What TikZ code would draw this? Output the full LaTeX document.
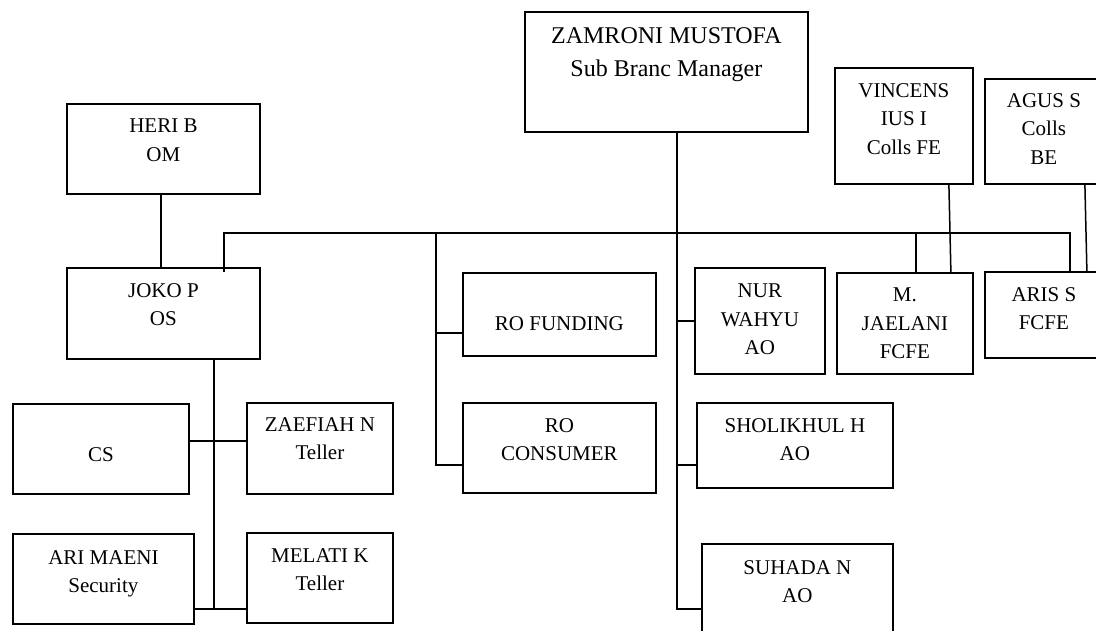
\documentclass[tikz,border=0pt]{standalone}
\usepackage{fontspec}
\setmainfont{Liberation Serif}
\begin{document}
\begin{tikzpicture}[x=1pt,y=-1pt,
  box/.style={draw, line width=1.8pt, inner sep=0pt, anchor=north west},
  txt/.style={font=\fontsize{21}{28.5}\selectfont, align=center, inner sep=0pt, anchor=north},
  bigtxt/.style={txt, font=\fontsize{24}{33}\selectfont},
  conn/.style={line width=1.5pt}]
\useasboundingbox (0,0) rectangle (1096,630);
\fill[white] (0,0) rectangle (1096,630);
\clip (0,0) rectangle (1096,630);
% boxes
\node[box, minimum width=283pt, minimum height=120pt] (zam) at (524,11) {};
\node[box, minimum width=193pt, minimum height=90pt] (heri) at (66,103) {};
\node[box, minimum width=193pt, minimum height=91pt] (joko) at (66,267) {};
\node[box, minimum width=176pt, minimum height=90pt] (cs) at (12,403) {};
\node[box, minimum width=146pt, minimum height=91pt] (zae) at (246,402) {};
\node[box, minimum width=181pt, minimum height=90pt] (ari) at (12,533) {};
\node[box, minimum width=146pt, minimum height=90pt] (mel) at (246,532) {};
\node[box, minimum width=193pt, minimum height=83pt] (rof) at (462,272) {};
\node[box, minimum width=193pt, minimum height=90pt] (roc) at (462,402) {};
\node[box, minimum width=130pt, minimum height=106pt] (nur) at (694,267) {};
\node[box, minimum width=196pt, minimum height=85pt] (sho) at (696,402) {};
\node[box, minimum width=191pt, minimum height=107pt] (suh) at (701,543) {};
\node[box, minimum width=138pt, minimum height=116pt] (vin) at (834,67) {};
\node[box, minimum width=118pt, minimum height=105pt] (agu) at (984,78) {};
\node[box, minimum width=136pt, minimum height=101pt] (jae) at (836,272) {};
\node[box, minimum width=118pt, minimum height=86pt] (aris) at (984,271) {};
% texts
\node[bigtxt] (tzam) at ([yshift=-16pt]zam.north) {ZAMRONI MUSTOFA\\Sub Branc Manager};
\node[txt] (theri) at ([yshift=-16pt]heri.north) {HERI B\\OM};
\node[txt] (tjoko) at ([yshift=-16pt]joko.north) {JOKO P\\OS};
\node[txt] (tcs) at ([yshift=-44.5pt]cs.north) {CS};
\node[txt] (tzae) at ([yshift=-15pt]zae.north) {ZAEFIAH N\\Teller};
\node[txt] (tari) at ([yshift=-17pt]ari.north) {ARI MAENI\\Security};
\node[txt] (tmel) at ([yshift=-16pt]mel.north) {MELATI K\\Teller};
\node[txt] (trof) at ([yshift=-44.5pt]rof.north) {RO FUNDING};
\node[txt] (troc) at ([yshift=-16pt]roc.north) {RO\\CONSUMER};
\node[txt] (tnur) at ([yshift=-17pt]nur.north) {NUR\\WAHYU\\AO};
\node[txt] (tsho) at ([yshift=-16pt]sho.north) {SHOLIKHUL H\\AO};
\node[txt] (tsuh) at ([yshift=-17pt]suh.north) {SUHADA N\\AO};
\node[txt] (tvin) at ([yshift=-16pt]vin.north) {VINCENS\\IUS I\\Colls FE};
\node[txt] (tagu) at ([yshift=-15pt]agu.north) {AGUS S\\Colls\\BE};
\node[txt] (tjae) at ([yshift=-16pt]jae.north) {M.\\JAELANI\\FCFE};
\node[txt] (taris) at ([yshift=-16pt]aris.north) {ARIS S\\FCFE};
% junctions
\coordinate (busL) at (224,233);
\coordinate (busR) at (1070,233);
\coordinate (jSuh) at (677,609);
\coordinate (jSho) at (677,465);
\coordinate (jMid) at (436,233);
\coordinate (jRof) at (436,333);
\coordinate (jRoc) at (436,465);
\coordinate (jCs) at (214,441);
\coordinate (jAri) at (214,609);
\coordinate (jJae) at (916,233);
% connectors
\draw[conn] ([xshift=-2.5pt]heri.south) -- ([xshift=-2.5pt]joko.north);
\draw[conn] ([yshift=-5pt]joko.north -| busL) -- (busL) -- (busR) -- ([yshift=-1pt]busR |- aris.north);
\draw[conn] (zam.south -| jSuh) -- (jSuh) -- (jSuh -| suh.west);
\draw[conn] (nur.west -| jSuh) -- (nur.west);
\draw[conn] (jSho) -- (jSho -| sho.west);
\draw[conn] (jMid) -- (jRoc) -- (jRoc -| roc.west);
\draw[conn] (jRof) -- (jRof -| rof.west);
\draw[conn] (joko.south -| jAri) -- (jAri);
\draw[conn] (jCs -| cs.east) -- (jCs -| zae.west);
\draw[conn] (jAri -| ari.east) -- (jAri -| mel.west);
\draw[conn] (jJae) -- (jJae |- jae.north);
\draw[conn] ([xshift=45pt]vin.south) -- ([xshift=46pt]jae.north);
\draw[conn] ([xshift=41pt]agu.south) -- ([xshift=43pt]aris.north);
\end{tikzpicture}
\end{document}
